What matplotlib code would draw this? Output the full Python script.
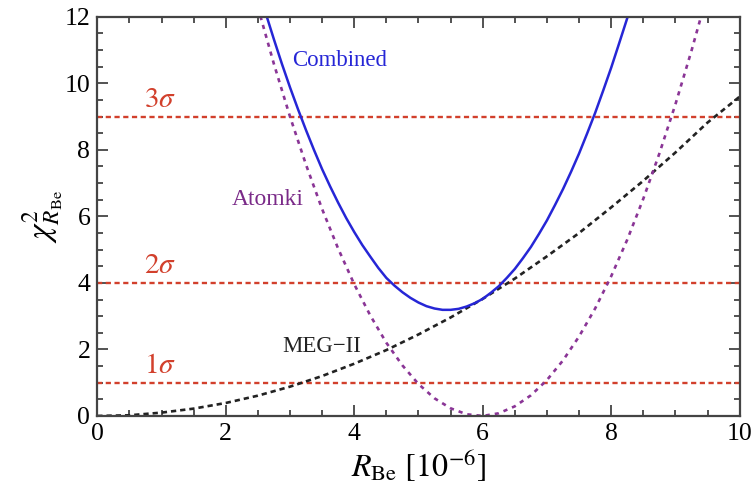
import matplotlib
matplotlib.use("Agg")
import matplotlib.pyplot as plt
from matplotlib.ticker import MultipleLocator

plt.rcParams['font.family'] = ['Liberation Serif', 'DejaVu Serif']
plt.rcParams['mathtext.fontset'] = 'stix'

# MEG-II chi^2 (black dashed)
meg_x = [0, 0.5, 1, 1.5, 2, 2.5, 3, 3.5, 4, 4.5, 5, 5.5, 6, 6.5, 7, 7.5, 8, 8.5, 9, 9.5, 10]
meg_y = [0, 0.02, 0.1, 0.22, 0.39, 0.61, 0.88, 1.2, 1.57, 1.98, 2.45, 2.96, 3.52, 4.13,
         4.8, 5.5, 6.27, 7.07, 7.92, 8.82, 9.6]

# Atomki chi^2 (purple dashed)
atomki_x = [2.5, 2.75, 3.0, 3.25, 3.5, 3.75, 4.0, 4.25, 4.5, 4.75, 5.0, 5.25, 5.5, 5.75,
            6.0, 6.25, 6.5, 6.75, 7.0, 7.25, 7.5, 7.75, 8.0, 8.25, 8.5, 8.75, 9.0, 9.25, 9.5]
atomki_y = [12.29, 10.58, 9.0, 7.55, 6.22, 5.03, 3.96, 3.02, 2.2, 1.52, 0.96, 0.53, 0.23, 0.05,
            0.0, 0.08, 0.29, 0.62, 1.08, 1.67, 2.39, 3.23, 4.2, 5.3, 6.53, 7.89, 9.37, 10.98, 12.71]

# Combined chi^2 (blue solid)
comb_x = [2.5, 2.625, 2.75, 2.875, 3.0, 3.125, 3.25, 3.375, 3.5, 3.625, 3.75, 3.875,
          4.0, 4.125, 4.25, 4.375, 4.5, 4.625, 4.75, 4.875, 5.0, 5.125, 5.25, 5.375,
          5.5, 5.625, 5.75, 5.875, 6.0, 6.125, 6.25, 6.375, 6.5, 6.625, 6.75, 6.875,
          7.0, 7.125, 7.25, 7.375, 7.5, 7.625, 7.75, 7.875, 8.0, 8.125, 8.25, 8.375]
comb_y = [12.9, 12.09, 11.32, 10.58, 9.88, 9.22, 8.59, 7.99, 7.42, 6.9, 6.41, 5.95,
          5.53, 5.14, 4.79, 4.45, 4.15, 3.92, 3.72, 3.55, 3.41, 3.3, 3.23, 3.19,
          3.19, 3.22, 3.29, 3.39, 3.52, 3.7, 3.9, 4.15, 4.42, 4.74, 5.08, 5.47,
          5.88, 6.34, 6.82, 7.34, 7.89, 8.49, 9.11, 9.78, 10.47, 11.21, 11.96, 12.78]

# confidence levels
sigma_levels = [1, 4, 9]
sigma_labels = [r'$1\sigma$', r'$2\sigma$', r'$3\sigma$']

red = '#d2402c'
purple = '#8a3596'
blue = '#2626d6'

fig = plt.figure(figsize=(7.54, 4.94), dpi=100)
ax = fig.add_axes([0.129, 0.158, 0.852, 0.808])

for lev, lab in zip(sigma_levels, sigma_labels):
    ax.axhline(lev, color=red, lw=1.7, linestyle=(0, (2.2, 1.5)))
    ax.text(0.98, lev + 0.5, lab, color=red, fontsize=21, ha='center', va='center')

ax.plot(meg_x, meg_y, color='#222222', lw=1.9, linestyle=(0, (2.0, 1.5)))
ax.plot(atomki_x, atomki_y, color=purple, lw=1.9, linestyle=(0, (1.6, 1.9)))
ax.plot(comb_x, comb_y, color=blue, lw=1.8)

ax.text(3.77, 10.7, 'Combined', color=blue, fontsize=16.5, ha='center', va='center')
ax.text(2.65, 6.5, 'Atomki', color='#7a2a88', fontsize=17, ha='center', va='center')
ax.text(3.49, 2.08, 'MEG\u2212II', color='#222222', fontsize=16.5, ha='center', va='center')

ax.set_xlim(0, 10)
ax.set_ylim(0, 12)
ax.xaxis.set_major_locator(MultipleLocator(2))
ax.xaxis.set_minor_locator(MultipleLocator(0.5))
ax.yaxis.set_major_locator(MultipleLocator(2))
ax.yaxis.set_minor_locator(MultipleLocator(0.5))
ax.tick_params(which='both', direction='in', top=True, right=True, color='#444444',
               labelsize=18.5, width=1.3)
ax.tick_params(which='major', length=8, pad=5)
ax.tick_params(which='minor', length=4)
for s in ax.spines.values():
    s.set_linewidth(1.6)
    s.set_color('#444444')

ax.set_xlabel(r'$R_{\mathrm{Be}}\ [10^{-6}]$', fontsize=23, labelpad=2)
ax.set_ylabel(r'$\chi^2_{R_{\mathrm{Be}}}$', fontsize=24, labelpad=0)

fig.savefig('out.png', dpi=100)
